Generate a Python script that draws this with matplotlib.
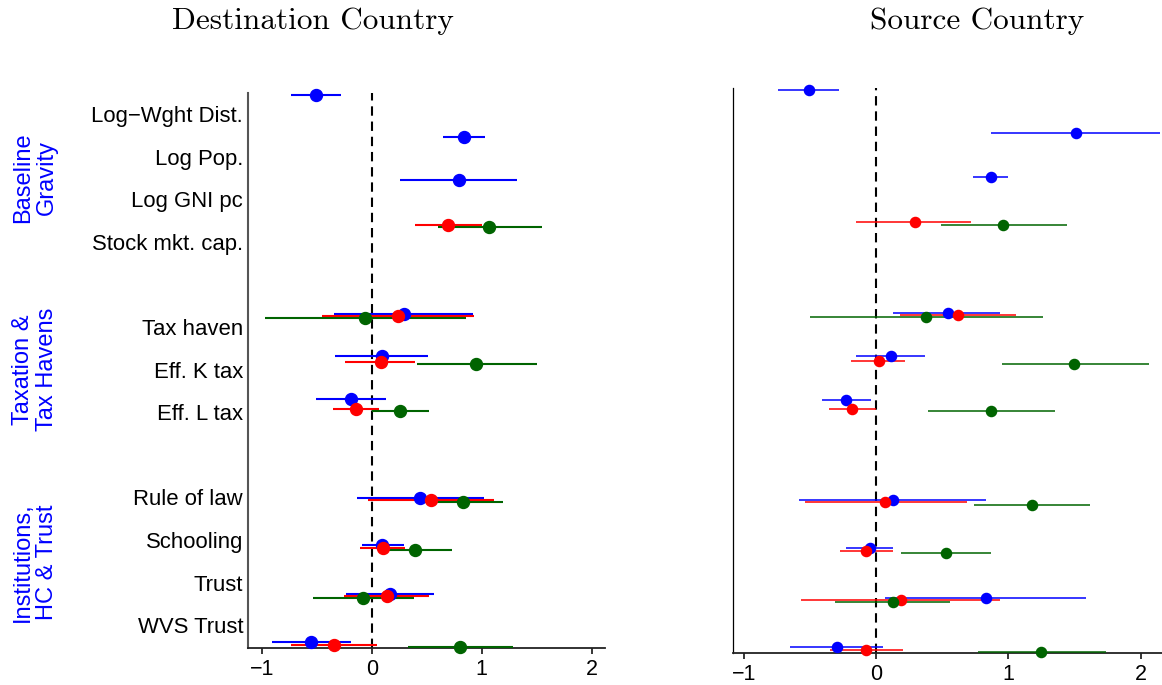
import numpy as np
import matplotlib
matplotlib.use("Agg")
import matplotlib.pyplot as plt
import matplotlib.transforms as mtransforms

nan = np.nan

# ---------------- data ----------------
variables = ["Log\u2212Wght Dist.", "Log Pop.", "Log GNI pc", "Stock mkt. cap.",
             "Tax haven", "Eff. K tax", "Eff. L tax",
             "Rule of law", "Schooling", "Trust", "WVS Trust"]
groups = ["Baseline\nGravity", "Taxation &\nTax Havens", "Institutions,\nHC & Trust"]
panel_titles = ["Destination Country", "Source Country"]
xticks = [-1, 0, 1, 2]

# Destination country
dest_blue_est = [-0.51, 0.84, 0.79, nan, 0.29, 0.09, -0.19, 0.44, 0.09, 0.17, -0.55]
dest_blue_lo = [-0.73, 0.65, 0.26, nan, -0.34, -0.33, -0.51, -0.13, -0.09, -0.23, -0.91]
dest_blue_hi = [-0.28, 1.03, 1.32, nan, 0.92, 0.51, 0.13, 1.02, 0.29, 0.57, -0.19]
dest_red_est = [nan, nan, nan, 0.69, 0.24, 0.08, -0.14, 0.54, 0.10, 0.14, -0.34]
dest_red_lo = [nan, nan, nan, 0.39, -0.45, -0.24, -0.35, -0.03, -0.11, -0.25, -0.73]
dest_red_hi = [nan, nan, nan, 1.00, 0.93, 0.39, 0.07, 1.11, 0.30, 0.52, 0.05]
dest_green_est = [nan, nan, nan, 1.07, -0.06, 0.95, 0.26, 0.83, 0.39, -0.08, 0.80]
dest_green_lo = [nan, nan, nan, 0.60, -0.97, 0.41, 0.00, 0.48, 0.06, -0.53, 0.33]
dest_green_hi = [nan, nan, nan, 1.55, 0.86, 1.50, 0.52, 1.19, 0.73, 0.38, 1.28]

# Source country
src_blue_est = [-0.51, 1.51, 0.87, nan, 0.54, 0.11, -0.23, 0.13, -0.05, 0.83, -0.30]
src_blue_lo = [-0.74, 0.87, 0.73, nan, 0.13, -0.15, -0.41, -0.58, -0.23, 0.07, -0.65]
src_blue_hi = [-0.28, 2.15, 1.00, nan, 0.94, 0.37, -0.04, 0.83, 0.13, 1.59, 0.05]
src_red_est = [nan, nan, nan, 0.29, 0.62, 0.02, -0.18, 0.07, -0.08, 0.19, -0.08]
src_red_lo = [nan, nan, nan, -0.15, 0.18, -0.19, -0.36, -0.54, -0.27, -0.57, -0.35]
src_red_hi = [nan, nan, nan, 0.72, 1.06, 0.22, 0.00, 0.69, 0.13, 0.94, 0.20]
src_green_est = [nan, nan, nan, 0.96, 0.38, 1.50, 0.87, 1.18, 0.53, 0.13, 1.25]
src_green_lo = [nan, nan, nan, 0.49, -0.50, 0.95, 0.39, 0.74, 0.19, -0.31, 0.77]
src_green_hi = [nan, nan, nan, 1.44, 1.26, 2.06, 1.35, 1.62, 0.87, 0.56, 1.74]

# ---------------- layout ----------------
# vertical position of each row's markers (percent of axis height, from top)
row_pos = np.array([0.3, 8.0, 15.7, 23.4, 39.8, 47.4, 55.2, 72.9, 81.5, 90.2, 98.95])
red_shift = np.array([0.4, 0.4, 0.4, 0.4, 0.4, 1.0, 1.65, 0.45, 0.45, 0.45, 0.45])
green_shift = np.array([0.8, 0.8, 0.8, 0.8, 0.75, 1.4, 2.05, 0.85, 0.85, 0.85, 0.85])
label_slots = np.array([0, 1, 2, 3, 5, 6, 7, 9, 10, 11, 12])
label_base = 5.23 + 7.676 * label_slots

BLUE = "#0000ff"
RED = "#ff0000"
GREEN = "#006400"
SANS = ["Liberation Sans", "DejaVu Sans"]

fig = plt.figure(figsize=(11.62, 6.85), dpi=100)
ax1 = fig.add_axes([248 / 1162, 1 - 648 / 685, 357 / 1162, 555 / 685])
ax2 = fig.add_axes([733 / 1162, 1 - 653 / 685, 429 / 1162, 565 / 685])


def draw_series(ax, est, lo, hi, y, color, ms, lw):
    est = np.asarray(est, float)
    lo = np.asarray(lo, float)
    hi = np.asarray(hi, float)
    ok = ~np.isnan(est)
    ax.hlines(y[ok], lo[ok], hi[ok], color=color, lw=lw, clip_on=False, zorder=3)
    ax.plot(est[ok], y[ok], "o", color=color, ms=ms, mec=color, clip_on=False, zorder=4)


def style_axis(ax, xlim, spine_color, spine_lw):
    ax.set_xlim(*xlim)
    ax.set_ylim(100, 0)
    ax.axvline(0, color="black", lw=1.5, ls=(0, (4.5, 2.8)), zorder=2)
    for s in ["top", "right"]:
        ax.spines[s].set_visible(False)
    ax.spines["left"].set_color(spine_color)
    ax.spines["left"].set_linewidth(spine_lw)
    ax.spines["bottom"].set_color("#222222")
    ax.spines["bottom"].set_linewidth(1.3)
    ax.set_yticks([])
    ax.set_xticks(xticks)
    ax.tick_params(axis="x", direction="out", length=4.5, width=1.1, pad=3.5,
                   labelsize=15.5, colors="black")
    for lab in ax.get_xticklabels():
        lab.set_fontfamily(SANS)


panels = [
    (ax1, (dest_blue_est, dest_blue_lo, dest_blue_hi),
     (dest_red_est, dest_red_lo, dest_red_hi),
     (dest_green_est, dest_green_lo, dest_green_hi), 8.6, 1.5),
    (ax2, (src_blue_est, src_blue_lo, src_blue_hi),
     (src_red_est, src_red_lo, src_red_hi),
     (src_green_est, src_green_lo, src_green_hi), 7.3, 1.1),
]

style_axis(ax1, (-1.125, 2.121), "#555555", 1.5)
style_axis(ax2, (-1.083, 2.162), "black", 0.9)

for ax, b, r, g, ms, lw in panels:
    draw_series(ax, *b, row_pos, BLUE, ms, lw)
    draw_series(ax, *r, row_pos + red_shift, RED, ms, lw)
    draw_series(ax, *g, row_pos + green_shift, GREEN, ms, lw)

# variable labels (left panel only)
trans = mtransforms.blended_transform_factory(ax1.transAxes, ax1.transData) + \
    mtransforms.ScaledTranslation(-5 / 100, 0, fig.dpi_scale_trans)
for name, yb in zip(variables, label_base):
    ax1.text(0, yb, name, transform=trans, ha="right", va="baseline",
             fontsize=15.9, family=SANS, color="black")

# group labels
group_centers = [177.5, 369.5, 562.0]
for gname, yc in zip(groups, group_centers):
    fig.text(35 / 1162, 1 - yc / 685, gname, rotation=90, ha="center", va="center",
             multialignment="center", fontsize=17, family=SANS, color=BLUE,
             linespacing=1.16)

# panel titles
fig.text(313 / 1162, 1 - 29 / 685, panel_titles[0], ha="center", va="baseline",
         fontsize=22.5, family="cmr10")
fig.text(977 / 1162, 1 - 29 / 685, panel_titles[1], ha="center", va="baseline",
         fontsize=22.5, family="cmr10")

fig.savefig("out.png", dpi=100)
